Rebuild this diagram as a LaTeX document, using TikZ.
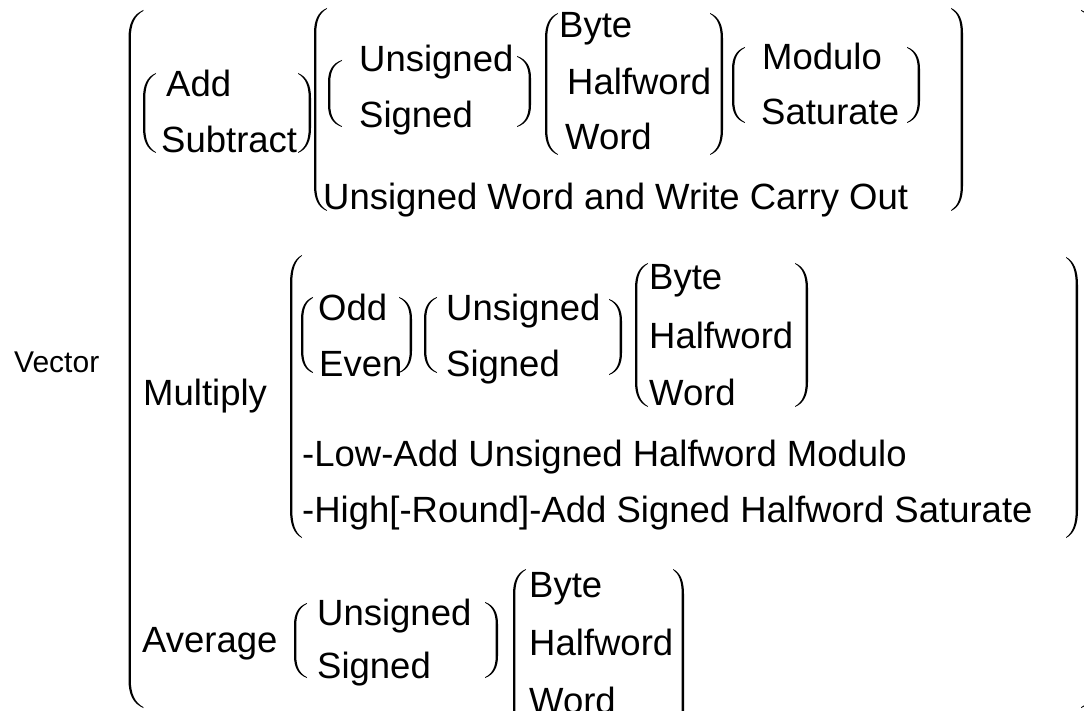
\documentclass[tikz,border=0pt]{standalone}
\usepackage{fontspec}
\setmainfont{Liberation Sans}
\tikzset{
  txt/.style={anchor=base west, inner sep=0pt, font=\fontsize{36.5}{40}\selectfont},
  vectxt/.style={anchor=base west, inner sep=0pt, font=\fontsize{30}{32}\selectfont},
}
\def\pw{2.3}
% left parenthesis: #1 x of vertical stroke, #2 top y, #3 bottom y, #4 reach of ends, #5 curve height
\newcommand{\LP}[5]{%
  \fill ({#1+#4},{#2})
    .. controls ({#1+0.3*#4},{#2+0.15*#5}) and ({#1},{#2+0.5*#5}) .. ({#1},{#2+#5})
    -- ({#1},{#3-#5})
    .. controls ({#1},{#3-0.5*#5}) and ({#1+0.3*#4},{#3-0.15*#5}) .. ({#1+#4},{#3})
    -- ({#1+#4-0.2},{#3-0.9})
    .. controls ({#1+0.35*#4+0.5*\pw},{#3-0.2*#5}) and ({#1+\pw},{#3-0.5*#5}) .. ({#1+\pw},{#3-#5})
    -- ({#1+\pw},{#2+#5})
    .. controls ({#1+\pw},{#2+0.5*#5}) and ({#1+0.35*#4+0.5*\pw},{#2+0.2*#5}) .. ({#1+#4-0.2},{#2+0.9})
    -- cycle;}
% right parenthesis, mirrored
\newcommand{\RP}[5]{%
  \fill ({#1-#4},{#2})
    .. controls ({#1-0.3*#4},{#2+0.15*#5}) and ({#1},{#2+0.5*#5}) .. ({#1},{#2+#5})
    -- ({#1},{#3-#5})
    .. controls ({#1},{#3-0.5*#5}) and ({#1-0.3*#4},{#3-0.15*#5}) .. ({#1-#4},{#3})
    -- ({#1-#4+0.2},{#3-0.9})
    .. controls ({#1-0.35*#4-0.5*\pw},{#3-0.2*#5}) and ({#1-\pw},{#3-0.5*#5}) .. ({#1-\pw},{#3-#5})
    -- ({#1-\pw},{#2+#5})
    .. controls ({#1-\pw},{#2+0.5*#5}) and ({#1-0.35*#4-0.5*\pw},{#2+0.2*#5}) .. ({#1-#4+0.2},{#2+0.9})
    -- cycle;}
\begin{document}
\begin{tikzpicture}[x=1pt,y=-1pt]
\useasboundingbox (0,0) rectangle (1084,711);
\fill[white] (0,0) rectangle (1084,711);
\clip (0,0) rectangle (1084,711);

% outer
\node[vectxt] (vector) at (14,372) {Vector};
\LP{128.5}{10}{708}{15}{28}
\RP{1097}{10}{708}{16}{28}

% ---- group 1: Add / Subtract
\LP{143}{73}{153}{13}{25}
\node[txt] (add) at (166,97) {Add};
\node[txt] (sub) at (161,153) {Subtract};
\RP{311}{73}{153}{13}{25}

\LP{314}{8}{211}{13}{25}
\RP{963}{8}{211}{12}{25}

\LP{328}{60}{127}{14}{22}
\node[txt] (uns1) at (359,72) {Unsigned};
\node[txt] (sig1) at (359,128) {Signed};
\RP{531}{56}{127}{14}{22}

\LP{545}{13}{155}{13}{25}
\node[txt] (byte1) at (559,38) {Byte};
\node[txt] (half1) at (567,95) {Halfword};
\node[txt] (word1) at (565,150) {Word};
\RP{723}{13}{155}{13}{25}

\LP{732}{47}{123}{13}{22}
\node[txt] (mod1) at (762,70) {Modulo};
\node[txt] (sat1) at (761,125) {Saturate};
\RP{920}{47}{123}{13}{22}

\node[txt] (carry) at (323,210) {Unsigned Word and Write Carry Out};

% ---- group 2: Multiply
\node[txt] (mul) at (143,405) {Multiply};
\LP{290}{255}{538}{12}{28}
\RP{1078}{257}{538}{12}{28}

\LP{301}{297}{373}{12}{22}
\node[txt] (odd) at (318,320) {Odd};
\node[txt] (even) at (319,376) {Even};
\RP{412}{297}{373}{13}{22}

\LP{424}{297}{373}{13}{22}
\node[txt] (uns2) at (446,320) {Unsigned};
\node[txt] (sig2) at (446,376) {Signed};
\RP{622}{299}{375}{13}{22}

\LP{635}{263}{407}{13}{25}
\node[txt] (byte2) at (649,290) {Byte};
\node[txt] (half2) at (649,348) {Halfword};
\node[txt] (word2) at (649,405) {Word};
\RP{808}{263}{407}{13}{25}

\node[txt] (low) at (302,466) {-Low-Add Unsigned Halfword Modulo};
\node[txt] (high) at (302,522) {-High[-Round]-Add Signed Halfword Saturate};

% ---- group 3: Average
\node[txt] (avg) at (142,652) {Average};
\LP{294}{603}{678}{13}{22}
\node[txt] (uns3) at (317,625) {Unsigned};
\node[txt] (sig3) at (317,678) {Signed};
\RP{498}{602}{678}{13}{22}

\LP{513}{569}{745}{13}{25}
\node[txt] (byte3) at (529,597) {Byte};
\node[txt] (half3) at (529,655) {Halfword};
\node[txt] (word3) at (529,713) {Word};
\RP{684}{569}{745}{11}{25}
\end{tikzpicture}
\end{document}
